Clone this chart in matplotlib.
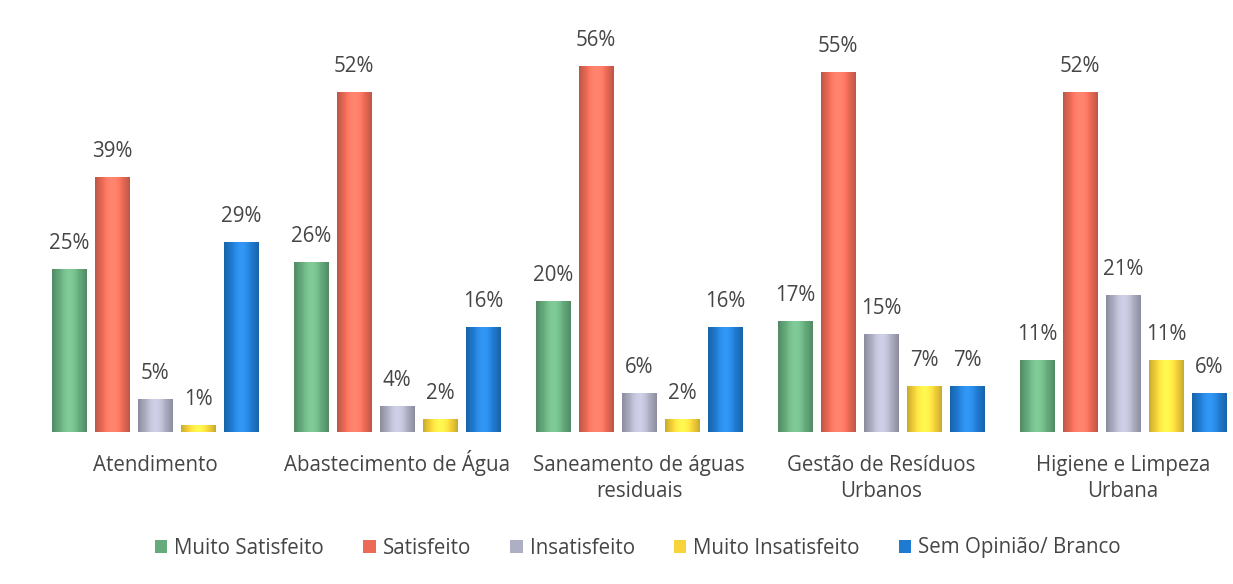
import numpy as np
import matplotlib
matplotlib.use("Agg")
import matplotlib.pyplot as plt
import matplotlib.transforms as mtransforms
from matplotlib.colors import to_rgb

categories = ["Atendimento", "Abastecimento de Água", "Saneamento de águas\nresiduais",
              "Gestão de Resíduos\nUrbanos", "Higiene e Limpeza\nUrbana"]
series_names = ["Muito Satisfeito", "Satisfeito", "Insatisfeito", "Muito Insatisfeito",
                "Sem Opinião/ Branco"]
muito_satisfeito = [25, 26, 20, 17, 11]
satisfeito = [39, 52, 56, 55, 52]
insatisfeito = [5, 4, 6, 15, 21]
muito_insatisfeito = [1, 2, 2, 7, 11]
sem_opiniao = [29, 16, 16, 7, 6]
series = [muito_satisfeito, satisfeito, insatisfeito, muito_insatisfeito, sem_opiniao]
colors = ["#66ab7c", "#ec6b57", "#aeaec4", "#f7d43a", "#1f7bd2"]

plt.rcParams['font.family'] = ['Open Sans', 'DejaVu Sans']
text_color = "#454545"

W, H = 1233, 584
fig = plt.figure(figsize=(W/100, H/100), dpi=100)
ax = fig.add_axes([34/W, 152/H, 1199/W, 425/H])
x = np.arange(len(categories))
step = 43/242
width = 35/242

def shade(col, n=64):
    c = np.array(to_rgb(col))
    t = np.linspace(0, 1, n)
    f = 0.75 + 0.35*np.sin(np.pi*(t*0.9+0.05))
    arr = np.clip(c[None, :]*f[:, None] + (f[:, None]-1).clip(0)*0.6, 0, 1)
    return arr[None, :, :]

for i, (vals, col, name) in enumerate(zip(series, colors, series_names)):
    pos = x + (i-2)*step
    bars = ax.bar(pos, vals, width=width, color=col, label=name, zorder=2)
    for b, v in zip(bars, vals):
        im = ax.imshow(shade(col), extent=[b.get_x(), b.get_x()+b.get_width(), 0, v],
                       aspect='auto', zorder=3, interpolation='bilinear')
        im.set_clip_path(b)
        ax.annotate(f"{v}%", (b.get_x()+b.get_width()/2, v), xytext=(0, 20),
                    textcoords='offset pixels', ha='center', va='baseline',
                    fontsize=14.8, color=text_color, zorder=4)

ax.set_xlim(-0.5, -0.5 + 1199/242)
ax.set_ylim(0, 65)
ax.set_xticks([])
ax.set_yticks([])
for s in ax.spines.values():
    s.set_visible(False)

# category labels: each line with a fixed baseline
for xi, lab in zip(x, categories):
    for k, line in enumerate(lab.split("\n")):
        ax.text(xi, 0, line, ha='center', va='baseline', fontsize=14.8, color=text_color,
                transform=ax.get_xaxis_transform() + mtransforms.ScaledTranslation(
                    0, -(39 + 26*k)/100, fig.dpi_scale_trans))

leg = fig.legend(loc='center', bbox_to_anchor=(638/W, 1-548/H), ncol=5, frameon=False,
                 fontsize=14.8, handlelength=0.6, handleheight=0.6, handletextpad=0.35,
                 columnspacing=1.9)
for t in leg.get_texts():
    t.set_color(text_color)

fig.savefig("out.png", dpi=100)
